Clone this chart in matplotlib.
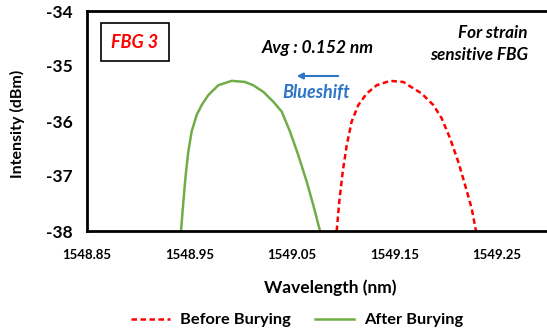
import matplotlib
matplotlib.use("Agg")
import matplotlib.pyplot as plt

plt.rcParams['font.family'] = ['Lato', 'DejaVu Sans']

# Data
before_wl = [1549.0936, 1549.0961, 1549.0995, 1549.1034, 1549.1082, 1549.1147, 1549.1229,
             1549.1326, 1549.1456, 1549.1586, 1549.1635, 1549.1765, 1549.1879, 1549.1960,
             1549.2041, 1549.2122, 1549.2188, 1549.2253, 1549.2295]
before_int = [-38.00, -37.47, -36.92, -36.44, -36.01, -35.71, -35.50,
              -35.35, -35.27, -35.29, -35.35, -35.50, -35.71, -35.95,
              -36.31, -36.74, -37.16, -37.59, -38.00]
after_wl = [1548.9417, 1548.9440, 1548.9463, 1548.9488, 1548.9521, 1548.9570, 1548.9619,
            1548.9683, 1548.9781, 1548.9912, 1549.0041, 1549.0122, 1549.0220, 1549.0318,
            1549.0400, 1549.0480, 1549.0561, 1549.0643, 1549.0708, 1549.0773]
after_int = [-38.00, -37.47, -36.98, -36.56, -36.19, -35.89, -35.71,
             -35.53, -35.35, -35.27, -35.29, -35.35, -35.47, -35.65,
             -35.83, -36.19, -36.62, -37.10, -37.53, -38.00]
xticks = [1548.85, 1548.95, 1549.05, 1549.15, 1549.25]
xtick_labels = ["1548.85", "1548.95", "1549.05", "1549.15", "1549.25"]
yticks = [-38, -37, -36, -35, -34]

fig = plt.figure(figsize=(5.47, 3.33), dpi=100)
ax = fig.add_axes([87/547, 1-231/333, 1-87/547, (231-11)/333])

l1, = ax.plot(before_wl, before_int, color='#ff0000', lw=1.8, ls=(0, (2.2, 1.4)), label='Before Burying')
l2, = ax.plot(after_wl, after_int, color='#70ad47', lw=1.8, label='After Burying')

ax.set_xlim(1548.85, 1548.85 + (547-87)/1025)
ax.set_ylim(-38, -34)
ax.set_xticks(xticks)
ax.set_xticklabels(xtick_labels, fontsize=9.5, fontweight='bold')
ax.set_yticks(yticks)
ax.set_yticklabels([str(v) for v in yticks], fontsize=12.5, fontweight='bold')
ax.tick_params(axis='x', length=0, pad=13)
ax.tick_params(axis='y', length=0, pad=10)
for s in ['left', 'bottom', 'top']:
    ax.spines[s].set_linewidth(2)
    ax.spines[s].set_color('black')
ax.spines['right'].set_visible(False)

fig.text(330/547, 1-288/333, 'Wavelength (nm)', ha='center', va='center', fontsize=12.5, fontweight='bold')
fig.text(17/547, 1-124/333, 'Intensity (dBm)', ha='center', va='center', rotation=90, fontsize=11.5, fontweight='bold')

# FBG 3 box
fig.text(135/547, 1-42/333, 'FBG 3', ha='center', va='center', fontsize=13, fontweight='bold',
         fontstyle='italic', color='#ff0000',
         bbox=dict(boxstyle='square,pad=0.6', fc='white', ec='black', lw=1.2))

fig.text(318/547, 1-48/333, 'Avg : 0.152 nm', ha='center', va='center', fontsize=12.5,
         fontweight='bold', fontstyle='italic', color='black')
fig.text(316/547, 1-93/333, 'Blueshift', ha='center', va='center', fontsize=13,
         fontweight='bold', fontstyle='italic', color='#2e75c6')
ax.annotate('', xy=(294/547, 1-76/333), xytext=(341/547, 1-76/333), xycoords='figure fraction',
            textcoords='figure fraction',
            arrowprops=dict(arrowstyle='-|>,head_length=0.35,head_width=0.18', color='#2e75c6', lw=1.5))
fig.text(528/547, 1-33/333, 'For strain', ha='right', va='center', fontsize=12.3,
         fontweight='bold', fontstyle='italic')
fig.text(528/547, 1-55/333, 'sensitive FBG', ha='right', va='center', fontsize=12.3,
         fontweight='bold', fontstyle='italic')

leg = fig.legend(handles=[l1, l2], loc='center', bbox_to_anchor=(297/547, 1-320/333), ncol=2,
                 frameon=False, prop={'weight': 'bold', 'size': 11.8},
                 handlelength=2.4, columnspacing=1.5, handletextpad=0.6)

fig.savefig('out.png', dpi=100)
